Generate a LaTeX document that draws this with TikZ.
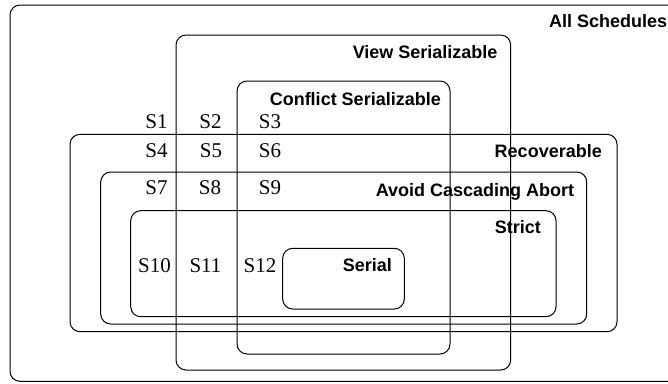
\documentclass[tikz,border=0pt]{standalone}
\usepackage{fontspec}
\setmainfont{Liberation Serif}
\setsansfont{Liberation Sans}
\usetikzlibrary{positioning}
\tikzset{
setname/.style={font=\sffamily\bfseries\fontsize{13.5}{16}\selectfont, anchor=base east, inner sep=0pt},
elem/.style={font=\fontsize{15.75}{18}\selectfont, anchor=base, inner sep=0pt}
}
\newcommand \mysetbox[4]
{
\draw[rounded corners=7.5pt] (#1,#2) rectangle (#3,#4);
}

\begin{document}
\begin{tikzpicture}[x=0.75pt, y=-0.75pt, line width=0.75pt]
\useasboundingbox (0,0) rectangle (668,383);
% the nested sets
\mysetbox{10}{5}{700}{381.3}
\mysetbox{176}{35}{510.7}{370}
\mysetbox{237}{81}{450}{354}
\mysetbox{70}{134.3}{617}{331.7}
\mysetbox{100.7}{172}{586.7}{324}
\mysetbox{130.7}{210.7}{556}{316.7}
\mysetbox{282.7}{248.3}{404.3}{309}
% set names
\node[setname] (all)    at (667.7,27.7)  {All Schedules};
\node[setname] (view)   at (498,58.3)    {View Serializable};
\node[setname] (conf)   at (441.3,105)   {Conflict Serializable};
\node[setname] (rec)    at (602.3,157.3) {Recoverable};
\node[setname] (aca)    at (574.7,196.7) {Avoid Cascading Abort};
\node[setname] (strict) at (541.3,233.3) {Strict};
\node[setname] (serial) at (392.3,271)   {Serial};
% schedules
\node[elem] (s1)  at (156.5,128)   {S1};
\node[elem] (s2)  at (210.5,128)   {S2};
\node[elem] (s3)  at (270,128)     {S3};
\node[elem] (s4)  at (156.5,157)   {S4};
\node[elem] (s5)  at (211,157)     {S5};
\node[elem] (s6)  at (270,157)     {S6};
\node[elem] (s7)  at (156.5,194.5) {S7};
\node[elem] (s8)  at (210,194.5)   {S8};
\node[elem] (s9)  at (270,194.5)   {S9};
\node[elem] (s10) at (154.5,272.5) {S10};
\node[elem] (s11) at (205.5,272.5) {S11};
\node[elem] (s12) at (260,272.5)   {S12};
\end{tikzpicture}
\end{document}
